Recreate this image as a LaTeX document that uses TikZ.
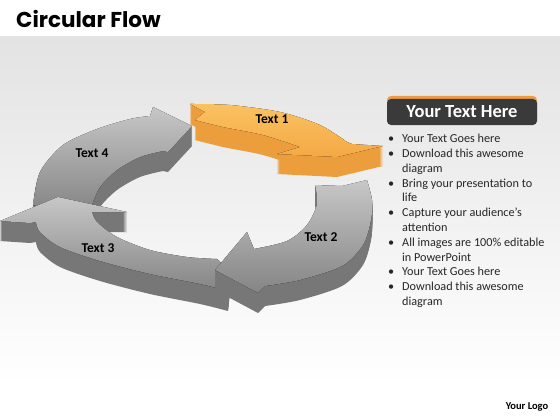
\documentclass[tikz,border=0pt]{standalone}
\usepackage{fontspec}
\setmainfont{Carlito}
\newfontfamily\titlefont{Poppins}
\definecolor{orangetop}{HTML}{FAC261}
\definecolor{orangelow}{HTML}{F5A845}
\definecolor{orangeside}{HTML}{EC9D3C}
\definecolor{greyside}{HTML}{777777}
\definecolor{boxdark}{HTML}{3A3A3A}
\definecolor{boxorange}{HTML}{EE9B48}
\tikzset{orangeface/.style={top color=orangetop,bottom color=orangelow}}
\tikzset{greyface/.style={top color=black!22,bottom color=black!48}}
\tikzset{ringtext/.style={font=\bfseries\fontsize{13.5}{13.5}\selectfont,inner sep=0pt}}
\tikzset{hdrbox/.style={fill=boxdark,rounded corners=4pt,minimum width=150pt,minimum height=26pt,inner sep=0pt,text=white,font=\bfseries\fontsize{18.5}{18.5}\selectfont}}
% outlines of the four arrows (top faces)
\newcommand{\arrowone}{(190,104) -- plot[smooth] coordinates {(190,104) (230,105) (280,112) (320,125) (347,142)} -- (352,144) -- (383,146) -- (337,157) -- (277,154) -- (300,147) -- plot[smooth] coordinates {(300,147) (263,135) (223,127) (195,120)} -- (205,112) -- cycle}
\newcommand{\arrowtwo}{(367,180) -- plot[smooth] coordinates {(367,180) (372,200) (371,220) (363,245) (342,266) (300,280) (265,286)} -- (258,293) -- (215,270) -- (247,232) -- (254,249) -- plot[smooth] coordinates {(254,249) (287,241) (307,225) (317,204) (315,185)} -- (342,186) -- cycle}
\newcommand{\arrowthree}{(228,291) -- plot[smooth] coordinates {(228,291) (200,284) (150,274) (100,261) (60,247) (40,232) (36,222)} -- (30,223) -- (0,221) -- (58,197) -- (127,212) -- (92,212) -- plot[smooth] coordinates {(92,212) (97,222) (117,237) (150,250) (187,257) (217,259)} -- (230,272) -- cycle}
\newcommand{\arrowfour}{(92,205) -- (60,212) -- (33,205) -- plot[smooth] coordinates {(33,205) (40,172) (63,145) (97,129) (130,119) (150,116)} -- (153,107) -- (192,126) -- (168,152) -- (163,151) -- plot[smooth] coordinates {(163,151) (140,157) (117,170) (100,187) (92,205)} -- cycle}
\newcommand{\bul}[1]{\makebox[14pt][l]{\textbullet}#1}
\newcommand{\cont}[1]{\hspace*{14pt}#1}

\begin{document}
\begin{tikzpicture}[x=1pt,y=-1pt]
	\useasboundingbox (0,0) rectangle (560,420);
	\fill[white] (0,0) rectangle (560,420);
	\fill[top color=black!11,bottom color=white] (0,37) rectangle (560,385);

	\node[anchor=base west,inner sep=0pt,font=\titlefont\bfseries\fontsize{21.5}{21.5}\selectfont] (title) at (16,28) {Circular Flow};

	% ring, back to front
	\foreach \d in {1,...,20} \fill[greyside,yshift=-\d pt] \arrowfour;
	\fill[greyface] \arrowfour;
	\foreach \d in {1,...,20} \fill[greyside,yshift=-\d pt] \arrowthree;
	\fill[greyface] \arrowthree;
	\foreach \d in {1,...,20} \fill[greyside,yshift=-\d pt] \arrowtwo;
	\fill[greyface] \arrowtwo;
	\foreach \d in {1,...,20} \fill[orangeside,yshift=-\d pt] \arrowone;
	\fill[orangeface] \arrowone;

	\node[ringtext] (t1) at (272,119) {Text 1};
	\node[ringtext] (t2) at (321,237) {Text 2};
	\node[ringtext] (t3) at (98,248) {Text 3};
	\node[ringtext] (t4) at (92,153) {Text 4};

	% text panel
	\fill[boxorange,rounded corners=4pt] (387,96) rectangle (537,122);
	\node[hdrbox] (hdr) at (462,112) {Your Text Here};
	\node[anchor=north west,inner sep=0pt,align=left,text=black!85,font=\fontsize{12.2}{14.8}\selectfont] (list) at (388,134) {%
		\bul{Your Text Goes here}\\
		\bul{Download this awesome}\\
		\cont{diagram}\\
		\bul{Bring your presentation to}\\
		\cont{life}\\
		\bul{Capture your audience’s}\\
		\cont{attention}\\
		\bul{All images are 100\% editable}\\
		\cont{in PowerPoint}\\
		\bul{Your Text Goes here}\\
		\bul{Download this awesome}\\
		\cont{diagram}};

	\node[inner sep=0pt,font=\bfseries\fontsize{10.5}{10.5}\selectfont] (logo) at (527,407) {Your Logo};
\end{tikzpicture}
\end{document}
